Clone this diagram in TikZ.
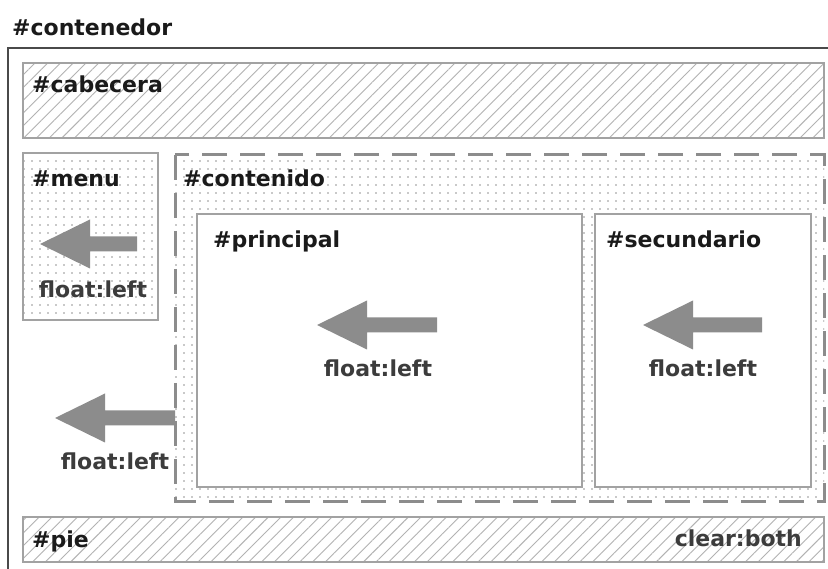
\documentclass[tikz,border=0pt]{standalone}
\usepackage{fontspec}
\setmainfont{DejaVu Sans}
\usetikzlibrary{patterns.meta}

\definecolor{boxgray}{HTML}{A2A2A2}
\definecolor{framegray}{HTML}{4A4A4A}
\definecolor{arrowgray}{HTML}{8C8C8C}
\definecolor{titledark}{HTML}{1A1A1A}
\definecolor{notegray}{HTML}{3C3C3C}

\tikzset{
  hatchbox/.style={draw=boxgray, line width=2pt,
    pattern={Lines[angle=45, distance=9pt, line width=0.9pt]}, pattern color=gray!60},
  dotfill/.style={pattern={Dots[distance=8pt, radius=0.8pt]}, pattern color=gray!85},
  dotbox/.style={draw=boxgray, line width=2pt, dotfill},
  plainbox/.style={draw=boxgray, line width=2pt, fill=white},
  boxtitle/.style={anchor=base west, inner sep=0pt,
    font=\fontsize{22}{25}\selectfont\bfseries, text=titledark},
  cssnote/.style={anchor=base, inner sep=0pt,
    font=\fontsize{22}{25}\selectfont\bfseries, text=notegray}
}

\begin{document}
\begin{tikzpicture}[x=1pt, y=-1pt]

  \fill[white] (0,0) rectangle (828,569);
  \clip (0,0) rectangle (828,569);

  % Outer frame
  \node[boxtitle] (contenedor) at (12,36) {\#contenedor};
  \draw[framegray, line width=2pt] (8,48) rectangle (850,590);

  % Header and footer, hatched
  \draw[hatchbox] (23,63) rectangle (824,138);
  \node[boxtitle] (cabecera) at (32,93) {\#cabecera};
  \draw[hatchbox] (23,517) rectangle (824,562);
  \node[boxtitle] (pie) at (32,547) {\#pie};
  \node[cssnote, anchor=base east] (clearboth) at (802,546) {clear:both};

  % Menu, dotted
  \draw[dotbox] (23,153) rectangle (158,320);
  \node[boxtitle] (menu) at (32,187) {\#menu};

  % Content wrapper, dotted with dashed border
  \fill[dotfill] (175,155) rectangle (824,501);
  \draw[arrowgray, line width=3pt, dash pattern=on 25pt off 13pt]
    (175,155) rectangle (824,501);
  \node[boxtitle] (contenido) at (183,187) {\#contenido};

  % Inner columns
  \draw[plainbox] (197,214) rectangle (582,487);
  \node[boxtitle] (principal) at (213,248) {\#principal};
  \draw[plainbox] (595,214) rectangle (811,487);
  \node[boxtitle] (secundario) at (606,248) {\#secundario};

  % Float arrows: tip x / tail x / centre y
  \foreach \tipx/\tailx/\ay in {40/137/244, 317/437/325, 643/762/325, 55/175/418}{
    \fill[arrowgray] (\tipx,\ay) -- (\tipx+50,\ay-24.5) -- (\tipx+50,\ay-7.5)
      -- (\tailx,\ay-7.5) -- (\tailx,\ay+7.5) -- (\tipx+50,\ay+7.5)
      -- (\tipx+50,\ay+24.5) -- cycle;
  }

  % float labels
  \node[cssnote] (menufloat) at (93,298) {float:left};
  \node[cssnote] (principalfloat) at (378,377) {float:left};
  \node[cssnote] (secundariofloat) at (703,377) {float:left};
  \node[cssnote] (contenidofloat) at (115,470) {float:left};

\end{tikzpicture}
\end{document}
